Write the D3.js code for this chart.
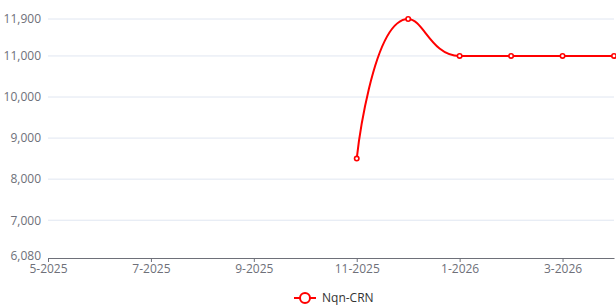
<!DOCTYPE html>
<html lang="en">
<head>
<meta charset="utf-8">
<title>Nqn-CRN</title>
<script src="https://cdn.jsdelivr.net/npm/d3@7"></script>
<style>
  body { margin: 0; background: #fff; }
  svg text { font-family: "Open Sans", "DejaVu Sans", sans-serif; }
</style>
</head>
<body>
<div id="chart"></div>
<script>
// months shown on the x axis (first to last)
const months = ["5-2025", "6-2025", "7-2025", "8-2025", "9-2025", "10-2025",
                "11-2025", "12-2025", "1-2026", "2-2026", "3-2026", "4-2026"];
const tickMonths = ["5-2025", "7-2025", "9-2025", "11-2025", "1-2026", "3-2026"];
const seriesMonths = ["11-2025", "12-2025", "1-2026", "2-2026", "3-2026", "4-2026"];
const seriesValues = [8500, 11900, 11000, 11000, 11000, 11000];
const yTicks = [6080, 7000, 8000, 9000, 10000, 11000, 11900];
const seriesName = "Nqn-CRN";

// smooth curve: control points from neighbours, clamped so it never overshoots a point
function smoothCurve(context) {
  let pts;
  const s = 0.5;
  const clamp = (v, a, b) => Math.max(Math.min(v, Math.max(a, b)), Math.min(a, b));
  return {
    areaStart() {}, areaEnd() {},
    lineStart() { pts = []; },
    point(px, py) { pts.push([+px, +py]); },
    lineEnd() {
      const n = pts.length;
      if (!n) return;
      let [cx0, cy0] = pts[0];
      context.moveTo(cx0, cy0);
      for (let i = 1; i < n; i++) {
        const [x0, y0] = pts[i];
        const [px, py] = pts[i - 1];
        let cx1 = x0, cy1 = y0, ncx = x0, ncy = y0;
        if (i < n - 1) {
          const [nx, ny] = pts[i + 1];
          let vx = nx - px, vy = ny - py;
          const lp = Math.hypot(x0 - px, y0 - py), ln = Math.hypot(nx - x0, ny - y0);
          const r = ln / (ln + lp);
          ncx = clamp(x0 + vx * s * r, nx, x0);
          ncy = clamp(y0 + vy * s * r, ny, y0);
          vx = ncx - x0; vy = ncy - y0;
          cx1 = clamp(x0 - vx * lp / ln, px, x0);
          cy1 = clamp(y0 - vy * lp / ln, py, y0);
          vx = x0 - cx1; vy = y0 - cy1;
          ncx = x0 + vx * ln / lp;
          ncy = y0 + vy * ln / lp;
        }
        context.bezierCurveTo(cx0, cy0, cx1, cy1, x0, y0);
        cx0 = ncx; cy0 = ncy;
      }
    }
  };
}

const W = 616, H = 307;
const m = {top: 19, right: 2, bottom: 49, left: 48};
const w = W - m.left - m.right, h = H - m.top - m.bottom;

const svg = d3.select("#chart").append("svg").attr("width", W).attr("height", H);
const g = svg.append("g").attr("transform", "translate(" + m.left + "," + m.top + ")");

const x = d3.scalePoint().domain(months).range([0, w]);
const y = d3.scaleLinear().domain([6080, 11900]).range([h, 0]);

// grid lines
g.append("g").selectAll("line")
  .data(yTicks.slice(1))
  .enter().append("line")
  .attr("x1", 0).attr("x2", w)
  .attr("y1", d => y(d)).attr("y2", d => y(d))
  .attr("stroke", "#e0e6f1").attr("stroke-width", 1);

// y axis labels
const yAxis = g.append("g")
  .call(d3.axisLeft(y).tickValues(yTicks).tickSize(0).tickPadding(7).tickFormat(d3.format(",")));
yAxis.select(".domain").remove();
yAxis.selectAll("text").attr("fill", "#6e7079").attr("font-size", 12);
yAxis.selectAll(".tick").filter(d => d === 6080).select("text").attr("dy", "0.1em");

// x axis
const xAxis = g.append("g")
  .attr("transform", "translate(0," + h + ")")
  .call(d3.axisBottom(x).tickValues(tickMonths).tickSize(4).tickSizeOuter(0).tickPadding(2));
xAxis.select(".domain").attr("stroke", "#6e7079");
xAxis.selectAll(".tick line").attr("stroke", "#6e7079");
xAxis.selectAll("text").attr("fill", "#6e7079").attr("font-size", 12);

// series
const pts = seriesMonths.map((mo, i) => [x(mo), y(seriesValues[i])]);
g.append("path")
  .datum(pts)
  .attr("fill", "none")
  .attr("stroke", "#ff0000")
  .attr("stroke-width", 2)
  .attr("d", d3.line().curve(smoothCurve));

g.selectAll(".pt")
  .data(pts)
  .enter().append("circle")
  .attr("cx", d => d[0]).attr("cy", d => d[1])
  .attr("r", 2.2)
  .attr("fill", "#fff")
  .attr("stroke", "#ff0000")
  .attr("stroke-width", 1.6);

// legend
const lg = svg.append("g").attr("transform", "translate(294,298)");
lg.append("line").attr("x1", 0).attr("x2", 22).attr("y1", 0).attr("y2", 0)
  .attr("stroke", "#ff0000").attr("stroke-width", 2);
lg.append("circle").attr("cx", 11).attr("cy", 0).attr("r", 5)
  .attr("fill", "#fff").attr("stroke", "#ff0000").attr("stroke-width", 2);
lg.append("text").attr("x", 28).attr("y", 0).attr("dy", "0.35em")
  .attr("fill", "#333").attr("font-size", 12).text(seriesName);
</script>
</body>
</html>
